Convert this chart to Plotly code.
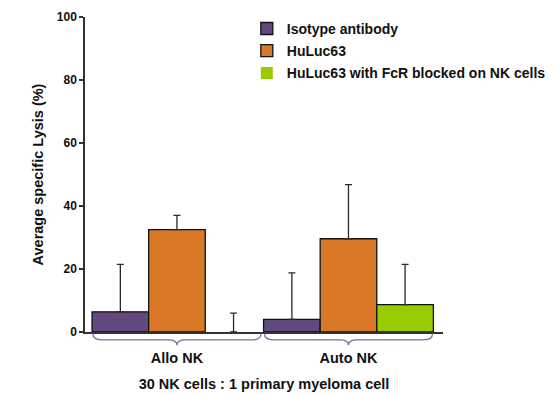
import plotly.graph_objects as go

categories = ["Allo NK", "Auto NK"]
series_names = ["Isotype antibody", "HuLuc63", "HuLuc63 with FcR blocked on NK cells"]
isotype = [6.4, 4.0]
isotype_err = [15.1, 14.8]
huluc = [32.5, 29.6]
huluc_err = [4.5, 17.2]
blocked = [0.0, 8.7]
blocked_err = [6.0, 12.8]
y_ticks = [0, 20, 40, 60, 80, 100]
colors = ["#624a7f", "#d97826", "#99cc00"]

FONT = "Liberation Sans, Arial, sans-serif"
xpos = list(range(len(categories)))

fig = go.Figure()
for i, (name, vals, errs) in enumerate(zip(series_names, [isotype, huluc, blocked],
                                           [isotype_err, huluc_err, blocked_err])):
    fig.add_trace(go.Bar(
        x=xpos, y=vals, name=name,
        marker=dict(color=colors[i],
                    line=dict(color="#111111", width=[1.3 if v > 0 else 0 for v in vals])),
        error_y=dict(type="data", array=errs, arrayminus=[0] * len(errs), symmetric=False,
                     color="#2a2a2a", thickness=1.3, width=3.5),
        legendgroup=f"g{i}",
    ))

bargap = 0.01
# curly braces under each group
brace_color = "#7d6c9b"
for xc in xpos:
    x0 = xc - 0.5 + bargap / 2 + 0.005
    x1 = xc + 0.5 - bargap / 2 - 0.005
    d = 0.05
    ya, yb, yc = -0.005, -0.025, -0.042
    path = (f"M {x0},{ya} Q {x0},{yb} {x0+d},{yb} L {xc-d},{yb} "
            f"Q {xc},{yb} {xc},{yc} Q {xc},{yb} {xc+d},{yb} L {x1-d},{yb} "
            f"Q {x1},{yb} {x1},{ya}")
    fig.add_shape(type="path", path=path, xref="x", yref="paper",
                  line=dict(color=brace_color, width=1.2))

# page body has an 8px margin; size the figure so the plot lands where the reference has it
fig.update_layout(
    width=548, height=387,
    margin=dict(l=77, r=113, t=9, b=63, autoexpand=False),
    paper_bgcolor="white", plot_bgcolor="white",
    barmode="group", bargap=bargap, bargroupgap=0,
    font=dict(family=FONT, color="#111111", weight="bold"),
    showlegend=True,
    legend=dict(x=0.452, y=1.013, xanchor="left", yanchor="top",
                font=dict(size=14, family=FONT, weight="bold", color="#111111"),
                bgcolor="rgba(0,0,0,0)", tracegroupgap=1, borderwidth=0),
    xaxis=dict(range=[-0.536, 1.551], tickvals=xpos, ticktext=categories,
               showline=True, linecolor="#333333", linewidth=1.5, ticks="",
               showgrid=False, zeroline=False, ticklabelstandoff=12, automargin=False,
               tickfont=dict(size=14.5, family=FONT, weight="bold"),
               title=dict(text="30 NK cells : 1 primary myeloma cell", standoff=14,
                          font=dict(size=14.5, family=FONT, weight="bold"))),
    yaxis=dict(range=[0, 100], tickvals=y_ticks, showline=True, linecolor="#333333",
               linewidth=1.5, ticks="outside", ticklen=4, tickwidth=1.5, tickcolor="#333333",
               showgrid=False, zeroline=False, automargin=False,
               tickfont=dict(size=12, family=FONT, weight="bold"),
               title=dict(text="Average specific Lysis (%)", standoff=10,
                          font=dict(size=14.5, family=FONT, weight="bold"))),
)

fig.write_html("out.html")
